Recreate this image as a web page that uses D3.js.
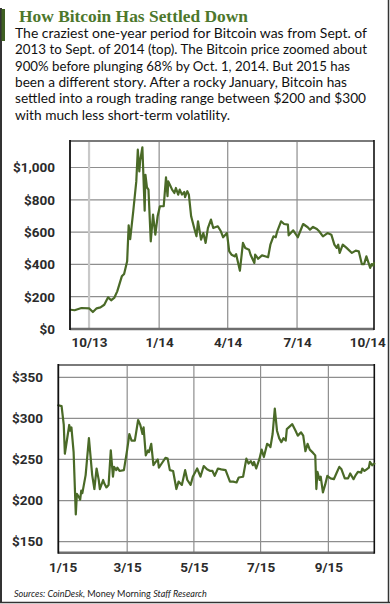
<!DOCTYPE html>
<html><head><meta charset="utf-8">
<script src="https://cdn.jsdelivr.net/npm/d3@7"></script>
<style>
html,body{margin:0;padding:0;background:#fff;}
svg{display:block;}
</style></head>
<body>
<svg id="chart" width="390" height="604"></svg>
<script>
// ---------- DATA ----------
const titleText = "How Bitcoin Has Settled Down";
const bodyLines = [
  "The craziest one-year period for Bitcoin was from Sept. of",
  "2013 to Sept. of 2014 (top). The Bitcoin price zoomed about",
  "900% before plunging 68% by Oct. 1, 2014. But 2015 has",
  "been a different story. After a rocky January, Bitcoin has",
  "settled into a rough trading range between $200 and $300",
  "with much less short-term volatility."
];
const bodyWidths = [352, 352, 335, 332, 351, 215];

const topDates = ["2013-09-07","2013-09-12","2013-09-21","2013-10-01","2013-10-06","2013-10-11","2013-10-16","2013-10-21","2013-10-26","2013-10-30",
"2013-11-03","2013-11-07","2013-11-13","2013-11-16","2013-11-20","2013-11-22","2013-11-24","2013-11-28","2013-12-02","2013-12-04",
"2013-12-06","2013-12-07","2013-12-10","2013-12-13","2013-12-14","2013-12-16","2013-12-18","2013-12-21","2013-12-24","2013-12-27",
"2013-12-30","2014-01-02","2014-01-07","2014-01-10","2014-01-12","2014-01-13","2014-01-16","2014-01-18","2014-01-21","2014-01-23",
"2014-01-26","2014-01-28","2014-01-31","2014-02-03","2014-02-04","2014-02-07","2014-02-09","2014-02-12","2014-02-16","2014-02-19",
"2014-02-21","2014-02-25","2014-02-28","2014-03-03","2014-03-06","2014-03-10","2014-03-13","2014-03-19","2014-03-23","2014-03-26",
"2014-03-31","2014-04-03","2014-04-06","2014-04-10","2014-04-12","2014-04-17","2014-04-21","2014-04-24","2014-04-29","2014-05-01",
"2014-05-06","2014-05-07","2014-05-11","2014-05-16","2014-05-20","2014-05-24","2014-05-27","2014-05-31","2014-06-03","2014-06-05",
"2014-06-10","2014-06-14","2014-06-19","2014-06-20","2014-06-26","2014-07-02","2014-07-09","2014-07-15","2014-07-18","2014-07-22",
"2014-07-27","2014-07-30","2014-08-04","2014-08-10","2014-08-15","2014-08-19","2014-08-22","2014-08-24","2014-08-26","2014-08-30",
"2014-09-04","2014-09-11","2014-09-16","2014-09-20","2014-09-24","2014-09-27","2014-09-30","2014-10-05","2014-10-07","2014-10-09","2014-10-10"];
const topValues = [119,116,130,128,105,128,134,150,196,178,
192,233,326,341,419,642,557,729,914,1110,
976,1038,1125,733,955,877,863,543,708,584,
698,760,760,939,822,914,884,863,842,873,
832,863,832,848,816,853,832,698,625,574,
667,553,594,533,625,677,625,636,605,568,
594,481,460,450,464,361,533,502,491,460,
409,460,435,456,450,444,522,574,568,605,
667,650,646,580,611,568,650,630,615,632,
619,605,574,594,584,522,502,522,471,522,
502,471,485,481,402,402,450,378,402,392,409];

const botDates = ["2014-12-28","2014-12-31","2015-01-02","2015-01-03","2015-01-07","2015-01-08","2015-01-09","2015-01-11","2015-01-13","2015-01-14",
"2015-01-16","2015-01-17","2015-01-18","2015-01-19","2015-01-22","2015-01-25","2015-01-28","2015-01-30","2015-02-01","2015-02-03",
"2015-02-04","2015-02-07","2015-02-08","2015-02-10","2015-02-12","2015-02-14","2015-02-16","2015-02-17","2015-02-19","2015-02-20",
"2015-02-22","2015-02-26","2015-03-01","2015-03-03","2015-03-05","2015-03-08","2015-03-11","2015-03-13","2015-03-15","2015-03-16",
"2015-03-18","2015-03-20","2015-03-21","2015-03-23","2015-03-25","2015-03-27","2015-03-29","2015-03-30","2015-04-02","2015-04-05",
"2015-04-07","2015-04-09","2015-04-12","2015-04-15","2015-04-17","2015-04-20","2015-04-23","2015-04-25","2015-04-28","2015-04-30",
"2015-05-04","2015-05-07","2015-05-10","2015-05-13","2015-05-16","2015-05-18","2015-05-20","2015-05-23","2015-05-26","2015-05-30",
"2015-06-03","2015-06-06","2015-06-09","2015-06-11","2015-06-15","2015-06-18","2015-06-20","2015-06-22","2015-06-24","2015-06-25",
"2015-06-27","2015-06-30","2015-07-02","2015-07-04","2015-07-07","2015-07-09","2015-07-10","2015-07-12","2015-07-14","2015-07-16",
"2015-07-18","2015-07-20","2015-07-22","2015-07-24","2015-07-25","2015-07-30","2015-08-02","2015-08-04","2015-08-07","2015-08-09",
"2015-08-11","2015-08-13","2015-08-15","2015-08-18","2015-08-20","2015-08-21","2015-08-22","2015-08-24","2015-08-25","2015-08-27",
"2015-08-29","2015-08-31","2015-09-03","2015-09-06","2015-09-09","2015-09-11","2015-09-13","2015-09-16","2015-09-19","2015-09-21",
"2015-09-24","2015-09-26","2015-09-28","2015-10-01","2015-10-02","2015-10-04","2015-10-06","2015-10-08","2015-10-09","2015-10-11","2015-10-13"];
const botValues = [316,315,292,257,292,285,289,259,183,208,
204,201,212,209,231,276,231,214,239,225,
214,225,221,216,219,261,229,241,237,240,
236,237,262,281,273,273,298,292,281,289,
255,261,259,269,243,247,250,240,246,252,
251,237,236,214,223,219,237,225,219,229,
239,229,242,238,236,236,230,239,238,237,
223,223,222,228,229,251,245,248,243,247,
239,251,262,253,269,267,265,281,312,285,
276,271,276,273,287,293,285,279,283,279,
260,269,262,258,255,214,235,225,229,210,
219,230,227,226,235,241,238,227,227,233,
226,231,235,234,239,236,238,240,247,243,245];

const topYTicks = [0, 200, 400, 600, 800, 1000];
const topYLabels = ["$0", "$200", "$400", "$600", "$800", "$1,000"];
const topXTicks = ["2013-10-01", "2014-01-01", "2014-04-01", "2014-07-01", "2014-10-01"];
const topXLabels = ["10/13", "1/14", "4/14", "7/14", "10/14"];

const botYTicks = [150, 200, 250, 300, 350];
const botYLabels = ["$150", "$200", "$250", "$300", "$350"];
const botXTicks = ["2015-01-01", "2015-03-01", "2015-05-01", "2015-07-01", "2015-09-01"];
const botXLabels = ["1/15", "3/15", "5/15", "7/15", "9/15"];

const sourceParts = [["Sources: CoinDesk, ", true], ["Money Morning ", false], ["Staff Research", true]];

// ---------- DRAW ----------
const parse = d3.timeParse("%Y-%m-%d");
const svg = d3.select("#chart");
const LINE = "#4a6a27";
const GRID = "#8e8e8e";
const LABEL = "#2b2b2b";
const FONT_AX = "Roboto, 'Noto Sans', sans-serif";

// outer frame
svg.append("rect").attr("x", 0).attr("y", 0).attr("width", 390).attr("height", 604).attr("fill", "#fff");
svg.append("line").attr("x1", 1).attr("x2", 1).attr("y1", 8).attr("y2", 603).attr("stroke", "#333").attr("stroke-width", 2);
svg.append("line").attr("x1", 388.5).attr("x2", 388.5).attr("y1", 0).attr("y2", 603).attr("stroke", "#333").attr("stroke-width", 1.5);
svg.append("line").attr("x1", 0).attr("x2", 390).attr("y1", 602.5).attr("y2", 602.5).attr("stroke", "#333").attr("stroke-width", 1.5);
svg.append("rect").attr("x", 1.5).attr("y", 9).attr("width", 3.5).attr("height", 32).attr("fill", "#3f5f22");

// title
svg.append("text").attr("x", 19).attr("y", 21.7)
  .attr("font-family", "'Liberation Serif', 'DejaVu Serif', serif")
  .attr("font-weight", "bold").attr("font-size", 16.5)
  .attr("fill", "#4d772c")
  .attr("textLength", 229).attr("lengthAdjust", "spacingAndGlyphs")
  .text(titleText);

// body text
const body = svg.append("g").attr("font-family", "Lato, 'Open Sans', sans-serif").attr("font-size", 13.2).attr("fill", "#111");
bodyLines.forEach((l, i) => {
  body.append("text").attr("x", 15).attr("y", 37.8 + i * 16.4)
    .attr("textLength", bodyWidths[i]).attr("lengthAdjust", "spacingAndGlyphs")
    .text(l);
});

function drawPanel(cfg) {
  const {x, y, dates, values, yTicks, yLabels, xTicks, xLabels, labelX, xLabelY, gridX, lightFirst} = cfg;
  const g = svg.append("g");
  const [x0, x1] = x.range();
  const [y0, y1] = y.range();

  g.selectAll(".hg").data(yTicks.filter(v => v > y.domain()[0])).join("line")
    .attr("x1", x0).attr("x2", x1).attr("y1", d => y(d)).attr("y2", d => y(d))
    .attr("stroke", GRID).attr("stroke-width", 1.2);
  g.selectAll(".vg").data(gridX.map(parse)).join("line")
    .attr("x1", d => x(d)).attr("x2", d => x(d)).attr("y1", y1).attr("y2", y0)
    .attr("stroke", (d, i) => (lightFirst && i === 0) ? "#c9c9c9" : GRID)
    .attr("stroke-width", (d, i) => (lightFirst && i === 0) ? 2.2 : 1.2);

  g.append("line").attr("x1", x0).attr("x2", x1).attr("y1", y1).attr("y2", y1).attr("stroke", "#7a7a7a").attr("stroke-width", 2.2);
  g.append("line").attr("x1", x0).attr("x2", x1).attr("y1", y0).attr("y2", y0).attr("stroke", "#6e6e6e").attr("stroke-width", 2.4);
  g.append("line").attr("x1", x1).attr("x2", x1).attr("y1", y1 - 1).attr("y2", y0 + 1).attr("stroke", "#111").attr("stroke-width", 1.6);

  const pts = dates.map((d, i) => [parse(d), values[i]]);
  g.append("path").datum(pts)
    .attr("fill", "none").attr("stroke", LINE).attr("stroke-width", 2.2)
    .attr("stroke-linejoin", "round").attr("stroke-linecap", "round")
    .attr("d", d3.line().x(d => x(d[0])).y(d => y(d[1])));

  g.append("line").attr("x1", x0).attr("x2", x0).attr("y1", y1 - 1).attr("y2", y0 + 1).attr("stroke", "#111").attr("stroke-width", 1.8);

  const ya = d3.axisLeft(y).tickValues(yTicks).tickFormat((d, i) => yLabels[i]).tickSize(0).tickPadding(0);
  const yg = svg.append("g").attr("transform", `translate(${labelX},0)`).call(ya);
  yg.select(".domain").remove();
  yg.selectAll("text").attr("font-family", FONT_AX).attr("font-weight", "bold").attr("font-size", 13.5).attr("fill", LABEL);

  const xa = d3.axisBottom(x).tickValues(xTicks.map(parse)).tickFormat((d, i) => xLabels[i]).tickSize(0).tickPadding(0);
  const xg = svg.append("g").attr("transform", `translate(0,${xLabelY})`).call(xa);
  xg.select(".domain").remove();
  xg.selectAll("text").attr("font-family", FONT_AX).attr("font-weight", "bold").attr("font-size", 13.5).attr("fill", LABEL)
    .attr("dy", 0).attr("y", 0);
}

const xTop = d3.scaleTime().domain([new Date(2013, 8, 6), new Date(2014, 9, 10)]).range([70, 374]);
const yTop = d3.scaleLinear().domain([0, 1164]).range([329, 141]);
drawPanel({x: xTop, y: yTop, dates: topDates, values: topValues, yTicks: topYTicks, yLabels: topYLabels,
  xTicks: topXTicks, xLabels: topXLabels, labelX: 55, xLabelY: 347, gridX: topXTicks.slice(0, 4), lightFirst: true});

const xBot = d3.scaleTime().domain([new Date(2014, 11, 28), new Date(2015, 9, 13)]).range([58.3, 374.3]);
const yBot = d3.scaleLinear().domain([136.5, 365]).range([552.7, 365]);
drawPanel({x: xBot, y: yBot, dates: botDates, values: botValues, yTicks: botYTicks, yLabels: botYLabels,
  xTicks: botXTicks, xLabels: botXLabels, labelX: 43, xLabelY: 572, gridX: botXTicks.slice(1), lightFirst: false});

// source line: fit font size to the reference width, no textLength
const src = svg.append("text").attr("x", 14).attr("y", 597)
  .attr("font-family", "Lato, 'Open Sans', sans-serif").attr("font-size", 10).attr("fill", "#222");
sourceParts.forEach(([t, it]) => {
  src.append("tspan").attr("font-style", it ? "italic" : "normal").text(t);
});
const w = src.node().getComputedTextLength();
if (w > 0) src.attr("font-size", (10 * 193 / w).toFixed(2));
</script>
</body></html>
